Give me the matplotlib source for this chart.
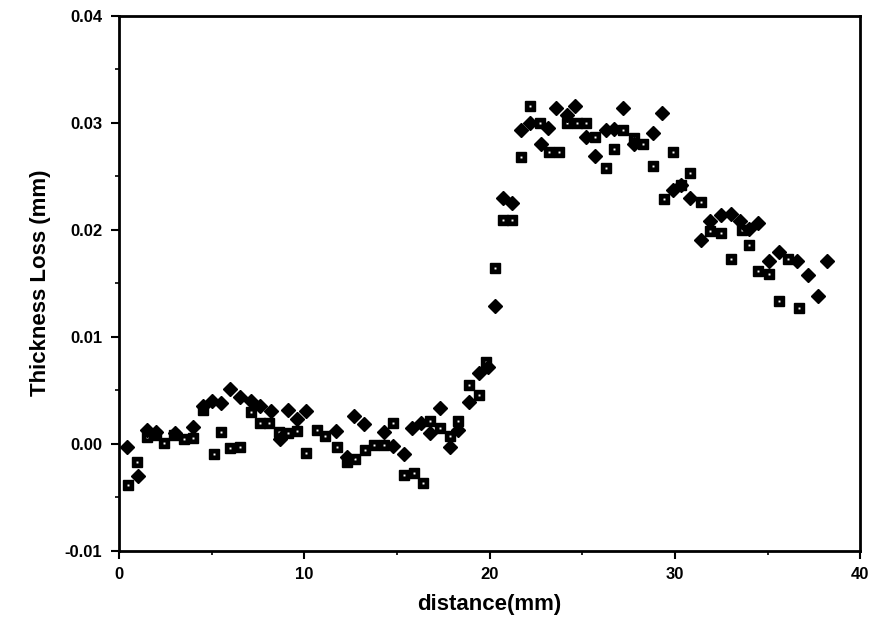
import matplotlib
matplotlib.use("Agg")
import matplotlib.pyplot as plt
from matplotlib.ticker import MultipleLocator

# diamond series
dia_x = [0.4, 1.0, 1.5, 2.0, 3.0, 4.0, 4.5, 5.0, 5.5, 6.0, 6.5, 7.1, 7.6, 8.2,
         8.7, 9.1, 9.6, 10.1, 11.7, 12.3, 12.7, 13.2, 14.3, 14.8, 15.4, 15.8,
         16.3, 16.8, 17.3, 17.85, 18.3, 18.9, 19.4, 19.9, 20.3, 20.7, 21.2,
         21.7, 22.2, 22.75, 23.15, 23.6, 24.2, 24.6, 25.2, 25.7, 26.3, 26.7,
         27.2, 27.8, 28.8, 29.3, 29.9, 30.3, 30.8, 31.4, 31.9, 32.5, 33.0,
         33.5, 34.0, 34.5, 35.05, 35.6, 36.6, 37.2, 37.7, 38.2]
dia_y = [-0.0003, -0.0030, 0.0013, 0.0011, 0.0010, 0.0016, 0.0035, 0.0040,
         0.0038, 0.0051, 0.0044, 0.0040, 0.0035, 0.0031, 0.0004, 0.0032,
         0.0023, 0.0031, 0.0012, -0.0012, 0.0026, 0.0018, 0.0011, -0.0002,
         -0.0010, 0.0015, 0.0019, 0.0010, 0.0033, -0.0003, 0.0013, 0.0039,
         0.0066, 0.0072, 0.0129, 0.0230, 0.0225, 0.0293, 0.0300, 0.0280,
         0.0295, 0.0314, 0.0307, 0.0316, 0.0287, 0.0269, 0.0293, 0.0294,
         0.0314, 0.0280, 0.0290, 0.0309, 0.0237, 0.0242, 0.0230, 0.0190,
         0.0208, 0.0214, 0.0215, 0.0208, 0.0201, 0.0206, 0.0171, 0.0179,
         0.0171, 0.0158, 0.0138, 0.0171]

# square series
sq_x = [0.5, 0.96, 1.5, 2.0, 2.4, 2.95, 3.5, 4.0, 4.5, 5.1, 5.5, 6.0, 6.5,
        7.1, 7.6, 8.1, 8.65, 9.1, 9.6, 10.1, 10.7, 11.1, 11.75, 12.3, 12.75,
        13.25, 13.75, 14.3, 14.8, 15.4, 15.9, 16.4, 16.8, 17.3, 17.85, 18.3,
        18.9, 19.4, 19.8, 20.3, 20.7, 21.2, 21.7, 22.2, 22.7, 23.2, 23.75,
        24.2, 24.7, 25.2, 25.7, 26.3, 26.7, 27.2, 27.8, 28.25, 28.8, 29.4,
        29.9, 30.3, 30.8, 31.4, 31.9, 32.5, 33.0, 33.6, 34.0, 34.5, 35.05,
        35.6, 36.1, 36.7]
sq_y = [-0.0039, -0.0017, 0.0006, 0.0008, 0.0001, 0.0008, 0.0004, 0.0005,
        0.0032, -0.0010, 0.0011, -0.0004, -0.0003, 0.0030, 0.0019, 0.0019,
        0.0011, 0.0010, 0.0012, -0.0009, 0.0013, 0.0007, -0.0003, -0.0017,
        -0.0014, -0.0006, -0.0001, -0.0001, 0.0019, -0.0029, -0.0027, -0.0037,
        0.0021, 0.0015, 0.0007, 0.0021, 0.0055, 0.0046, 0.0076, 0.0164,
        0.0209, 0.0209, 0.0268, 0.0316, 0.0300, 0.0273, 0.0273, 0.0300,
        0.0300, 0.0300, 0.0287, 0.0258, 0.0275, 0.0293, 0.0286, 0.0280,
        0.0260, 0.0229, 0.0273, 0.0242, 0.0253, 0.0226, 0.0199, 0.0197,
        0.0173, 0.0200, 0.0186, 0.0161, 0.0159, 0.0133, 0.0173, 0.0127]

x_ticks = [0, 10, 20, 30, 40]
y_ticks = [-0.01, 0.00, 0.01, 0.02, 0.03, 0.04]

plt.rcParams['font.family'] = ['Liberation Sans', 'DejaVu Sans']
plt.rcParams['font.weight'] = 'bold'

fig = plt.figure(figsize=(8.76, 6.28), dpi=100)
ax = fig.add_axes([0.136, 0.123, 0.846, 0.852])

ax.plot(sq_x, sq_y, 's', color='black', ms=7.5, mec='black', ls='none')
ax.plot(sq_x, sq_y, 's', color='white', ms=1.4, mec='none', ls='none')
ax.plot(dia_x, dia_y, 'D', color='black', ms=7, ls='none')

ax.set_xlim(0, 40)
ax.set_ylim(-0.01, 0.04)
ax.set_xticks(x_ticks)
ax.set_yticks(y_ticks)
ax.set_yticklabels(['%.2f' % v for v in y_ticks])
ax.xaxis.set_minor_locator(MultipleLocator(5))
ax.yaxis.set_minor_locator(MultipleLocator(0.005))
ax.tick_params(which='major', direction='out', length=6, width=1.5,
               labelsize=12, pad=6)
ax.tick_params(which='minor', direction='out', length=3, width=1.2)
for lab in ax.get_xticklabels() + ax.get_yticklabels():
    lab.set_fontweight('bold')
for s in ax.spines.values():
    s.set_linewidth(2)

ax.set_xlabel('distance(mm)', fontsize=16, fontweight='bold', labelpad=8)
ax.set_ylabel('Thickness Loss (mm)', fontsize=16, fontweight='bold', labelpad=10)

fig.savefig('out.png', dpi=100)
